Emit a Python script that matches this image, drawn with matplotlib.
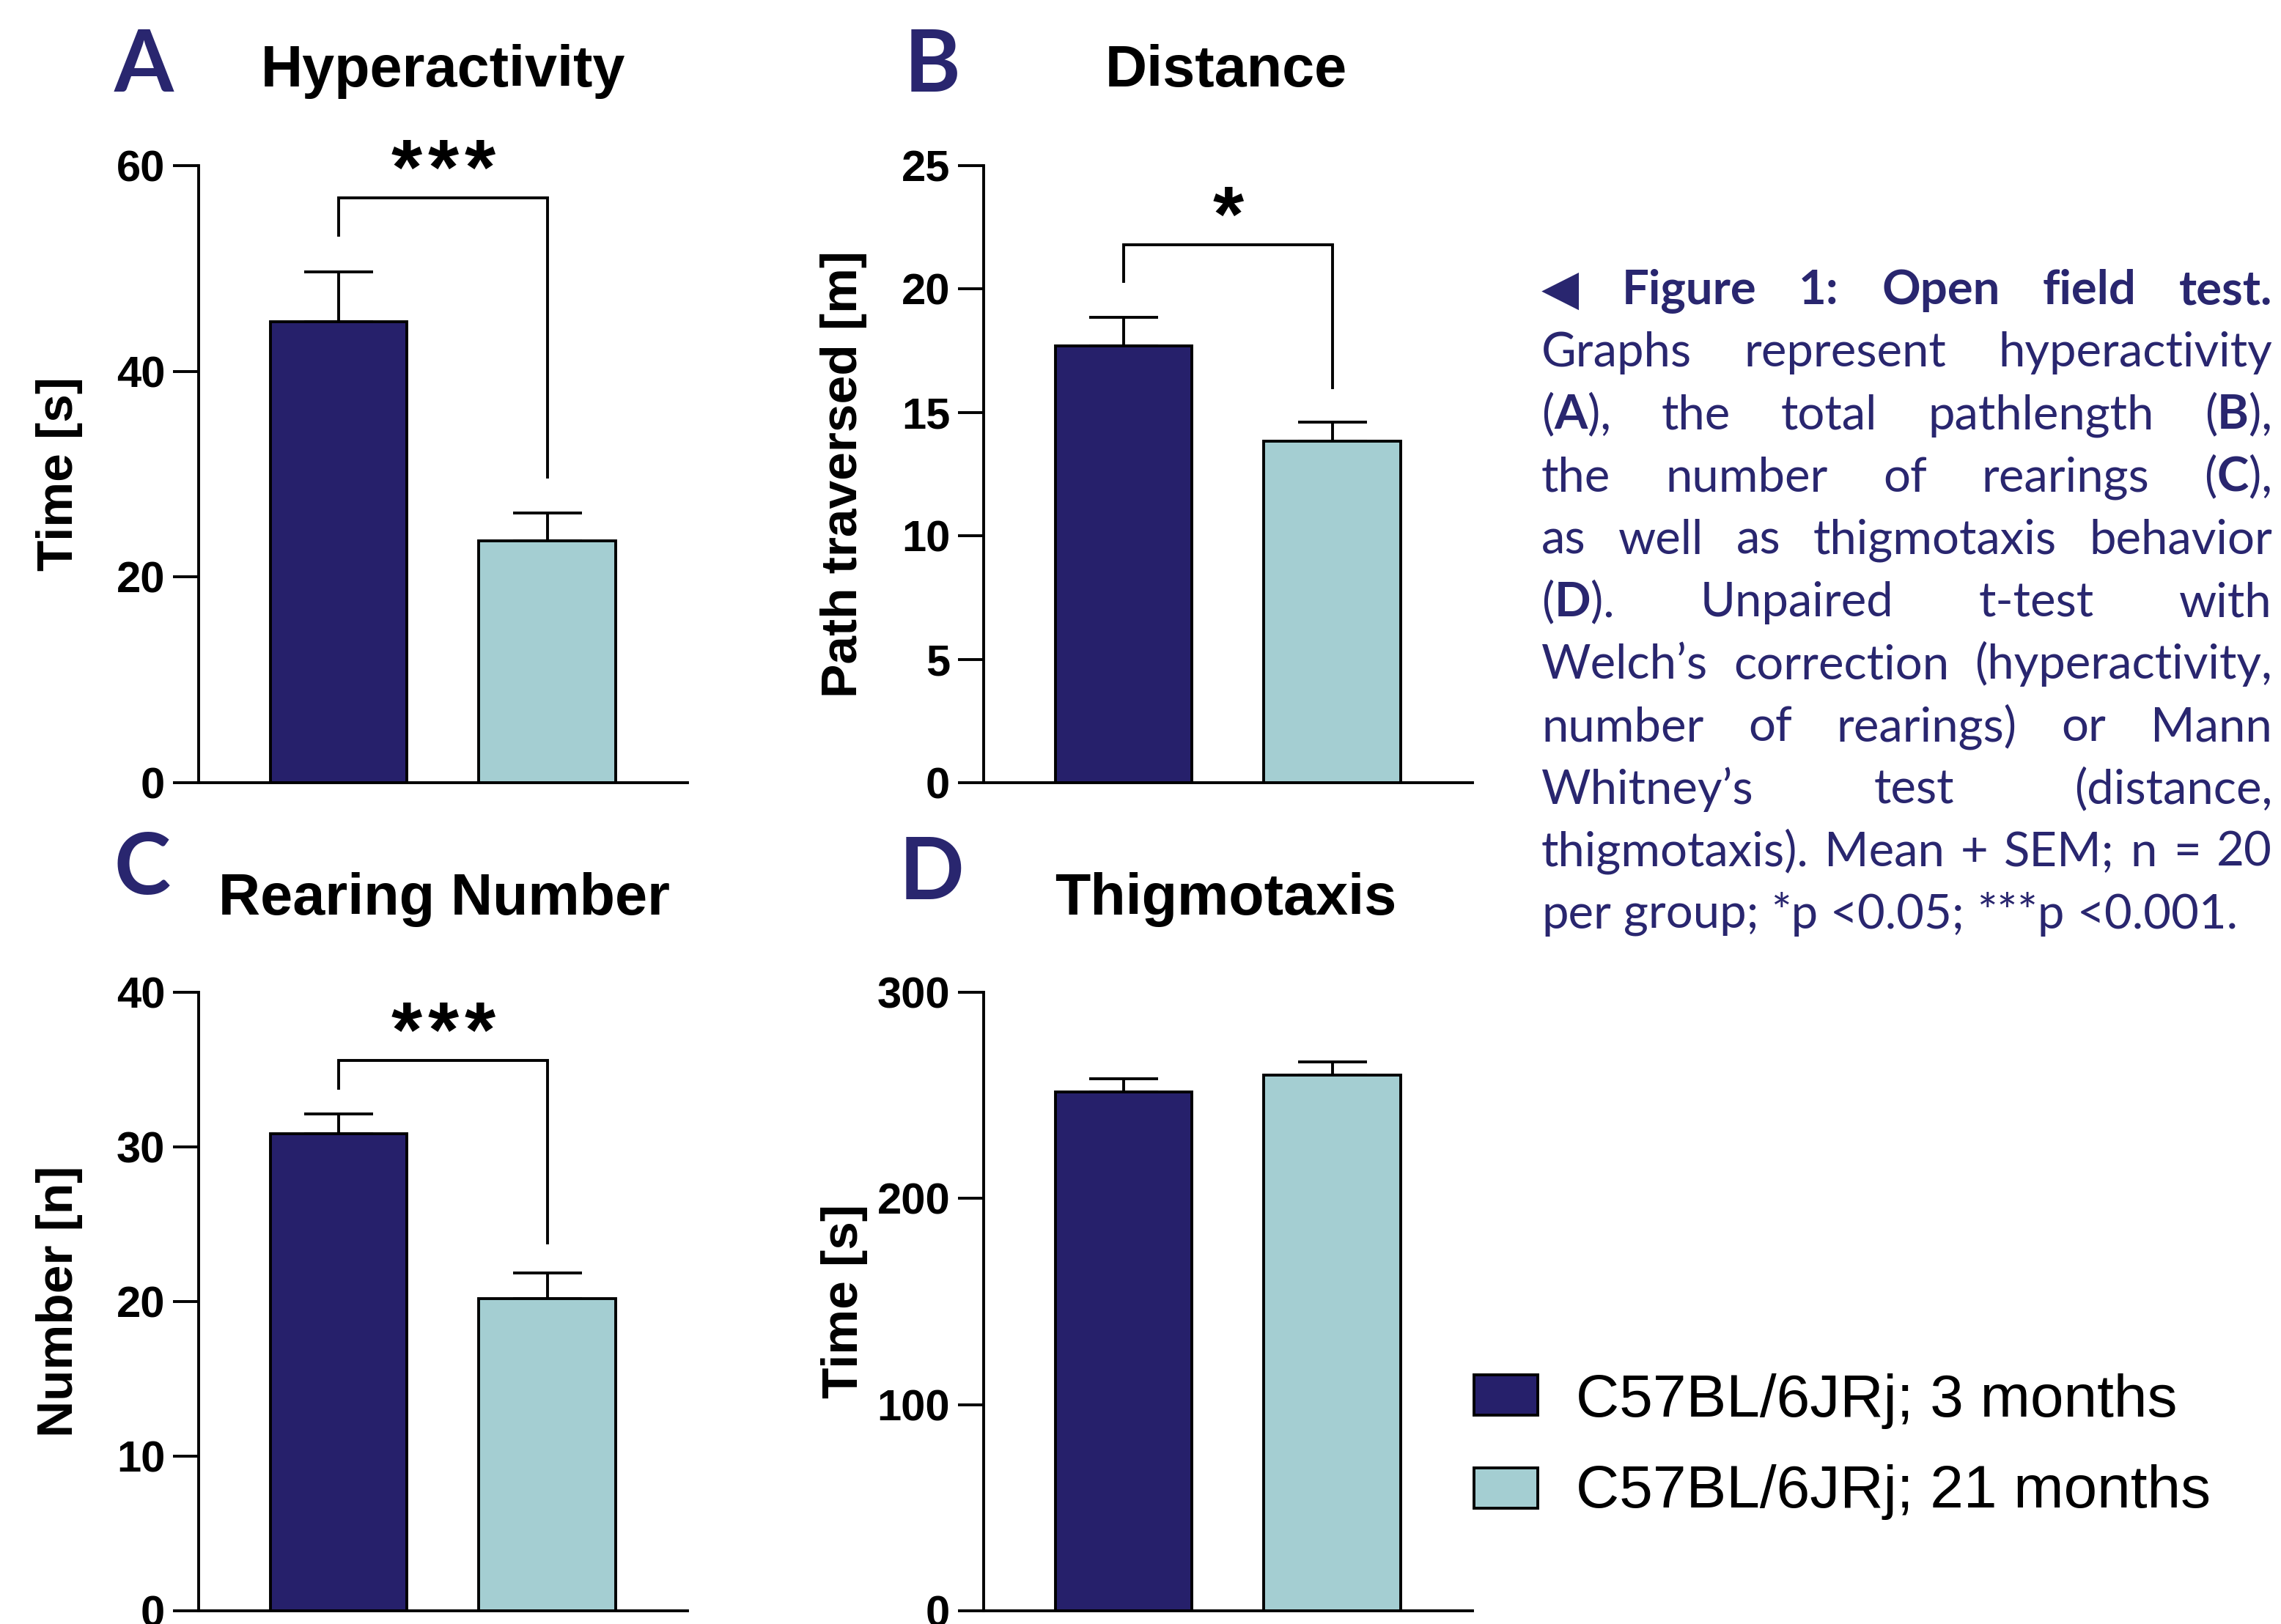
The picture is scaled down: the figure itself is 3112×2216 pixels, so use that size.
import matplotlib
matplotlib.use("Agg")
import matplotlib.pyplot as plt
from matplotlib.patches import Rectangle

# figure size in pixels (dpi 100)
W, H = 3112, 2216

groups = ["C57BL/6JRj; 3 months", "C57BL/6JRj; 21 months"]
bar_colors = ["#26206B", "#A4CED2"]
navy = "#29266F"

# panel data: mean + SEM per group
hyper_mean = [44.8, 23.5]
hyper_sem = [4.9, 2.7]
dist_mean = [17.7, 13.85]
dist_sem = [1.15, 0.75]
rear_mean = [30.85, 20.2]
rear_sem = [1.3, 1.65]
thig_mean = [251.7, 259.7]
thig_sem = [6.4, 6.5]

hyper_ticks = [0, 20, 40, 60]
dist_ticks = [0, 5, 10, 15, 20, 25]
rear_ticks = [0, 10, 20, 30, 40]
thig_ticks = [0, 100, 200, 300]

# significance brackets: top, left leg end, right leg end, number of stars, label y
hyper_sig = (56.9, 53.2, 29.7, 3, 60.9)
dist_sig = (21.8, 20.3, 16.0, 1, 23.5)
rear_sig = (35.6, 33.8, 23.8, 3, 38.3)

# |...| marks bold parts
caption = [
    "◀ |Figure 1: Open field test.|",
    "Graphs represent hyperactivity",
    "(|A|), the total pathlength (|B|),",
    "the number of rearings (|C|),",
    "as well as thigmotaxis behavior",
    "(|D|). Unpaired t-test with",
    "Welch’s correction (hyperactivity,",
    "number of rearings) or Mann",
    "Whitney’s test (distance,",
    "thigmotaxis). Mean + SEM; n = 20",
    "per group; *p <0.05; ***p <0.001.",
]

plt.rcParams["font.family"] = "Liberation Sans"

fig = plt.figure(figsize=(W / 100, H / 100), dpi=100)
LW = 2.8


def fx(x):
    return x / W


def fy(y):
    return 1 - y / H


def panel(l, t, r, b, means, sems, ticks, ylabel, ylab_x, title, title_x, title_y,
          letter, letter_x, letter_y, sig=None):
    ax = fig.add_axes([fx(l), fy(b), (r - l) / W, (b - t) / H])
    ax.bar([0, 1], means, width=0.654, color=bar_colors, edgecolor="black",
           linewidth=LW, zorder=3)
    ax.errorbar([0, 1], means, yerr=[[0, 0], sems], fmt="none", ecolor="black",
                elinewidth=LW, capsize=34, capthick=LW, zorder=2)
    ax.set_xlim(-0.671, 1.671)
    ax.set_ylim(0, ticks[-1])
    ax.set_xticks([])
    ax.set_yticks(ticks, labels=[str(v) for v in ticks], fontsize=43, fontweight="bold")
    ax.tick_params(axis="y", length=25, width=LW, pad=8)
    for s in ["top", "right"]:
        ax.spines[s].set_visible(False)
    for s in ["left", "bottom"]:
        ax.spines[s].set_linewidth(LW)
    if sig is not None:
        top, lft, rgt, nstar, lab_y = sig
        ax.plot([0, 0, 1, 1], [lft, top, top, rgt], color="black", lw=LW,
                clip_on=False, solid_joinstyle="miter")
        fs = 78
        pitch = 36  # points between stars
        for k in range(nstar):
            dx = (k - (nstar - 1) / 2) * pitch
            ax.annotate("*", (0.5, lab_y), xytext=(dx, -0.48 * fs), textcoords="offset points",
                        ha="center", va="baseline", fontsize=fs, fontweight="bold",
                        annotation_clip=False)
    fig.text(fx(ylab_x), fy((t + b) / 2), ylabel, rotation=90, ha="center", va="center",
             fontsize=50, fontweight="bold")
    fig.text(fx(title_x), fy(title_y), title, ha="center", va="baseline",
             fontsize=57, fontweight="bold")
    fig.text(fx(letter_x), fy(letter_y), letter, ha="left", va="baseline",
             fontsize=84, fontweight="bold", family="Lato", color=navy)
    return ax


panel(271, 226, 937.5, 1068, hyper_mean, hyper_sem, hyper_ticks, "Time [s]", 81,
      "Hyperactivity", 604, 118, "A", 156, 125, hyper_sig)
panel(1342, 226, 2008.5, 1068, dist_mean, dist_sem, dist_ticks, "Path traversed [m]", 1151,
      "Distance", 1673, 118, "B", 1234, 125, dist_sig)
panel(271, 1354, 937.5, 2198, rear_mean, rear_sem, rear_ticks, "Number [n]", 81,
      "Rearing Number", 606, 1248, "C", 156, 1220, rear_sig)
panel(1342, 1354, 2008.5, 2198, thig_mean, thig_sem, thig_ticks, "Time [s]", 1152,
      "Thigmotaxis", 1672, 1248, "D", 1227, 1227)

# legend
for i, (g, c) in enumerate(zip(groups, bar_colors)):
    y0 = 1876 + 127 * i
    fig.patches.append(Rectangle((fx(2011), fy(y0 + 55)), 87 / W, 55 / H,
                                 transform=fig.transFigure, facecolor=c,
                                 edgecolor="black", linewidth=LW))
    fig.text(fx(2150), fy(1933 + 124 * i), g, ha="left", va="baseline", fontsize=59)

# caption, justified
renderer = fig.canvas.get_renderer()
cap_fs = 47
cap_left, cap_right = 2103, 3100
base0, step = 415, 85.2


def seg_props(txt, bold):
    if txt == "◀":
        return dict(fontsize=48, family=["DejaVu Sans"], color=navy)
    return dict(fontsize=cap_fs, fontweight="bold" if bold else "normal",
                family=["Lato", "DejaVu Sans"], color=navy)


def width(txt, props):
    t = fig.text(0, 0, txt, **props)
    w = t.get_window_extent(renderer).width
    t.remove()
    return w


space_w = width("x x", seg_props("x", False)) - width("xx", seg_props("x", False))

bold = False
for i, line in enumerate(caption):
    words = []
    for word in line.split(" "):
        segs = []
        parts = word.split("|")
        for k, p in enumerate(parts):
            if k > 0:
                bold = not bold
            if p:
                segs.append((p, seg_props(p, bold)))
        words.append([(p, pr, width(p, pr)) for p, pr in segs])
    widths = [sum(s[2] for s in w) for w in words]
    if i < len(caption) - 1:
        gap = (cap_right - cap_left - sum(widths)) / (len(words) - 1)
    else:
        gap = space_w
    x = cap_left
    yb = base0 + step * i
    for w, ww in zip(words, widths):
        xs = x
        for p, pr, sw in w:
            fig.text(fx(xs), fy(yb), p, ha="left", va="baseline", **pr)
            xs += sw
        x += ww + gap

fig.savefig("out.png", dpi=100)
